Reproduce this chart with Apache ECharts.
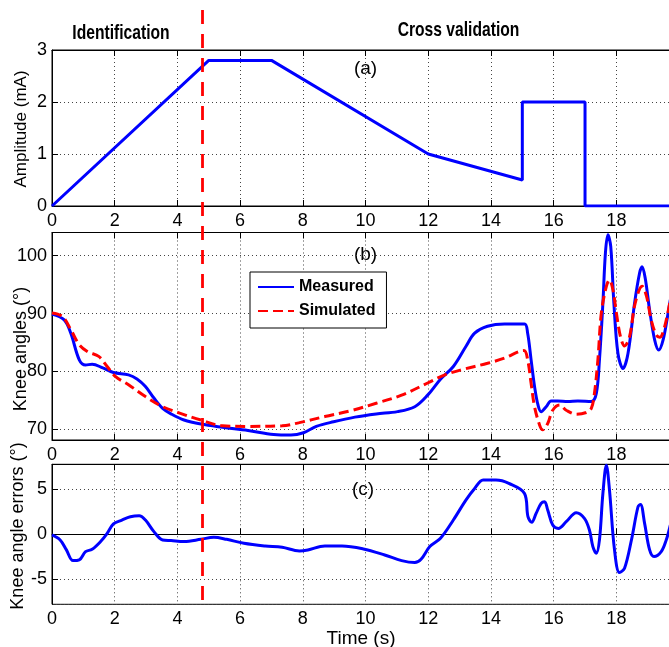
<!DOCTYPE html>
<html><head><meta charset="utf-8">
<script src="https://cdn.jsdelivr.net/npm/echarts@6/dist/echarts.min.js"></script>
<style>html,body{margin:0;padding:0;background:#fff}#c{width:669px;height:647px}</style>
</head><body><div id="c"></div>
<script>
// ---- data ----
const xTickLabels = [0, 2, 4, 6, 8, 10, 12, 14, 16, 18];
const splitTime = 4.8;

const ampT = [0, 5, 7, 12, 15, 15, 17, 17, 20];
const ampV = [0, 2.8, 2.8, 1, 0.5, 2, 2, 0, 0];

const measT = [0, 0.39, 0.60, 0.87, 1.07, 1.28, 1.62, 1.96, 2.44, 2.71, 2.98, 3.25, 3.53, 3.80, 4.21, 4.75, 5.44, 6.25, 7.07, 7.62, 8.02, 8.43, 8.98, 9.66, 10.34, 11.02, 11.57, 11.98, 12.39, 12.8, 13.2, 13.48, 13.89, 14.43, 15.07, 15.17, 15.28, 15.39, 15.5, 15.6, 15.76, 15.92, 16.13, 16.45, 16.77, 17.2, 17.36, 17.46, 17.57, 17.65, 17.73, 17.82, 17.92, 18.05, 18.21, 18.37, 18.58, 18.74, 18.82, 18.92, 19.06, 19.22, 19.35, 19.49, 19.65, 19.72];
const measV = [89.9, 88.9, 86.6, 82.0, 81.1, 81.25, 80.6, 79.8, 79.4, 78.7, 77.4, 75.4, 73.6, 72.65, 71.6, 70.9, 70.35, 69.8, 69.1, 69.0, 69.4, 70.5, 71.3, 72.1, 72.65, 73.05, 73.9, 75.9, 78.65, 80.85, 84.3, 86.6, 87.8, 88.2, 88.2, 86.6, 82.0, 77.4, 74.2, 73.05, 73.9, 74.9, 74.9, 74.8, 74.9, 74.8, 76.2, 82.0, 91.8, 100.45, 103.6, 101.6, 91.8, 83.1, 80.5, 83.1, 91.8, 97.0, 98.1, 96.1, 90.6, 85.45, 83.7, 85.45, 90.1, 92.4];

const simT = [0, 0.33, 0.60, 0.87, 1.14, 1.49, 1.76, 2.03, 2.44, 2.98, 3.53, 4.07, 4.75, 5.44, 6.25, 7.34, 7.89, 8.7, 9.52, 10.34, 11.15, 11.98, 12.53, 13.07, 13.89, 14.43, 15.05, 15.17, 15.28, 15.39, 15.55, 15.65, 15.81, 15.97, 16.19, 16.4, 16.72, 17.04, 17.2, 17.3, 17.41, 17.52, 17.68, 17.78, 17.89, 18.0, 18.13, 18.26, 18.42, 18.6, 18.82, 18.96, 19.11, 19.27, 19.38, 19.54, 19.72];
const simV = [90.1, 89.5, 87.2, 84.6, 83.4, 82.6, 80.85, 79.1, 77.7, 75.65, 73.9, 72.8, 71.6, 70.6, 70.5, 70.6, 71.15, 72.2, 73.2, 74.5, 75.9, 78.0, 79.4, 80.3, 81.4, 82.3, 83.6, 82.0, 77.95, 73.9, 70.75, 69.9, 71.0, 73.3, 74.2, 73.3, 72.6, 72.9, 73.6, 76.2, 82.0, 90.1, 94.7, 95.8, 94.1, 90.1, 86.0, 84.4, 86.0, 91.8, 94.7, 93.0, 88.9, 86.3, 85.9, 87.75, 92.4];

const errT = [0, 0.26, 0.46, 0.67, 0.87, 1.07, 1.28, 1.55, 1.76, 1.96, 2.23, 2.5, 2.78, 2.98, 3.25, 3.53, 3.80, 4.21, 4.75, 5.16, 5.57, 6.12, 6.8, 7.34, 7.89, 8.16, 8.7, 9.25, 9.93, 10.61, 11.15, 11.57, 11.77, 12.05, 12.39, 12.8, 13.2, 13.48, 13.75, 14.16, 14.57, 15.07, 15.18, 15.3, 15.44, 15.6, 15.71, 15.81, 15.97, 16.15, 16.4, 16.72, 16.98, 17.14, 17.25, 17.36, 17.46, 17.57, 17.68, 17.78, 17.94, 18.1, 18.26, 18.48, 18.69, 18.77, 18.9, 19.06, 19.2, 19.43, 19.59, 19.72];
const errV = [-0.07, -0.63, -1.74, -2.93, -2.85, -1.93, -1.67, -0.81, 0.11, 1.15, 1.59, 1.96, 2.07, 1.59, 0.3, -0.63, -0.7, -0.81, -0.56, -0.33, -0.56, -1.0, -1.3, -1.44, -1.85, -1.74, -1.3, -1.3, -1.63, -2.3, -2.93, -3.15, -2.78, -1.37, -0.44, 1.59, 3.81, 5.11, 6.04, 6.04, 5.67, 4.55, 1.96, 1.33, 2.33, 3.44, 3.63, 2.7, 1.03, 0.66, 1.4, 2.4, 1.77, 0.48, -1.37, -2.11, -0.63, 4.55, 7.7, 4.92, -1.74, -4.26, -3.78, -0.63, 3.07, 3.33, 1.22, -1.74, -2.48, -1.93, -0.63, 1.03];

// ---- chart ----
const REG = "'Liberation Sans', Arial, sans-serif";
const XMAX = 19.71;
const pairs = (t, v) => t.map((x, i) => [x, v[i]]);

const grids = [
  {left: 52, right: -1, top: 50, height: 156},
  {left: 52, right: -1, top: 232.5, height: 207.5},
  {left: 52, right: -1, top: 464.3, height: 140}
].map(g => Object.assign(g, {show: true, borderColor: '#000', borderWidth: 1, backgroundColor: 'transparent',
  containLabel: false, outerBoundsMode: 'none'}));

const gridLine = {show: true, lineStyle: {color: '#444', type: [1, 3], width: 1}};
const tickLabel = {fontFamily: REG, fontSize: 18, color: '#000'};

const xAxes = [];
for (let i = 0; i < 3; i++) {
  xAxes.push({
    type: 'value', gridIndex: i, min: 0, max: XMAX, interval: 2, position: 'bottom',
    axisLine: {show: true, lineStyle: {color: '#000'}},
    axisTick: {show: true, inside: true, length: 6, lineStyle: {color: '#000'}},
    axisLabel: Object.assign({margin: 6, showMaxLabel: false,
      formatter: v => xTickLabels.indexOf(v) >= 0 ? String(v) : ''}, tickLabel),
    splitLine: gridLine,
    name: i === 2 ? 'Time (s)' : '', nameLocation: 'middle', nameGap: 21,
    nameTextStyle: {fontFamily: REG, fontSize: 19, color: '#000'}
  });
}
for (let i = 0; i < 3; i++) {
  xAxes.push({
    type: 'value', gridIndex: i, min: 0, max: XMAX, interval: 2, position: 'top',
    axisLine: {show: true, lineStyle: {color: '#000'}},
    axisTick: {show: true, inside: true, length: 6, lineStyle: {color: '#000'}},
    axisLabel: {show: false}, splitLine: {show: false}
  });
}
const yAxes = [
  {type: 'value', gridIndex: 0, min: 0, max: 3, interval: 1},
  {type: 'value', gridIndex: 1, min: 68.15, max: 104, splitNumber: 4},
  {type: 'value', gridIndex: 2, min: -7.8, max: 7.8, splitNumber: 3}
].map(a => Object.assign(a, {
  axisLine: {show: true, lineStyle: {color: '#000'}},
  axisTick: {show: true, inside: true, length: 6, lineStyle: {color: '#000'}},
  axisLabel: Object.assign({margin: 5, showMinLabel: a.gridIndex === 0, showMaxLabel: a.gridIndex === 0}, tickLabel),
  splitLine: gridLine
}));

const blue = '#0000FF', red = '#FF0000';
const rot = Math.PI / 2;
const txt = (t, x, y, font, extra) => Object.assign({type: 'text', x: x, y: y,
  style: {text: t, fill: '#000', font: font, textAlign: 'center', textVerticalAlign: 'middle'}}, extra || {});
const option = {
  animation: false,
  backgroundColor: '#fff',
  grid: grids,
  xAxis: xAxes,
  yAxis: yAxes,
  legend: {
    data: ['Measured', 'Simulated'], orient: 'vertical', left: 250, top: 272,
    itemWidth: 36, itemHeight: 14, itemGap: 8, padding: [7, 11, 9, 7],
    borderColor: '#000', borderWidth: 1, backgroundColor: '#fff',
    itemStyle: {opacity: 0},
    textStyle: {fontFamily: REG, fontWeight: 'bold', fontSize: 16, color: '#000'}
  },
  series: [
    {type: 'line', name: 'Amplitude', xAxisIndex: 0, yAxisIndex: 0, data: pairs(ampT, ampV),
     symbol: 'none', lineStyle: {color: blue, width: 3}, itemStyle: {color: blue}},
    {type: 'line', name: 'Measured', xAxisIndex: 1, yAxisIndex: 1, data: pairs(measT, measV),
     symbol: 'none', smooth: 0.35, lineStyle: {color: blue, width: 3}, itemStyle: {color: blue}},
    {type: 'line', name: 'Simulated', xAxisIndex: 1, yAxisIndex: 1, data: pairs(simT, simV),
     symbol: 'none', smooth: 0.35, lineStyle: {color: red, width: 3, type: [10, 5]}, itemStyle: {color: red}},
    {type: 'line', name: 'Error', xAxisIndex: 2, yAxisIndex: 2, data: pairs(errT, errV),
     symbol: 'none', smooth: 0.35, lineStyle: {color: blue, width: 3}, itemStyle: {color: blue}}
  ],
  graphic: [
    txt('Identification', 121, 33, "bold 21px " + REG, {scaleX: 0.745}),
    txt('Cross validation', 458.5, 30, "bold 21px " + REG, {scaleX: 0.745}),
    txt('(a)', 365.5, 69, "19px " + REG),
    txt('(b)', 365.5, 255, "19px " + REG),
    txt('(c)', 363, 489.5, "19px " + REG),
    txt('Amplitude (mA)', 21.5, 129, "17px " + REG, {rotation: rot}),
    txt('Knee angles (°)', 21, 349, "18px " + REG, {rotation: rot}),
    txt('Knee angle errors (°)', 18.5, 526, "18px " + REG, {rotation: rot})
  ]
};
const chart = echarts.init(document.getElementById('c'));
chart.setOption(option);
const xp = chart.convertToPixel({xAxisIndex: 0}, splitTime);
const yBottom = chart.convertToPixel({yAxisIndex: 2}, -7.8);
chart.setOption({graphic: option.graphic.concat([
  {type: 'line', z: 100, shape: {x1: xp, y1: 10, x2: xp, y2: yBottom},
   style: {stroke: red, lineWidth: 2.8, lineDash: [14, 10]}}
])});
</script></body></html>
